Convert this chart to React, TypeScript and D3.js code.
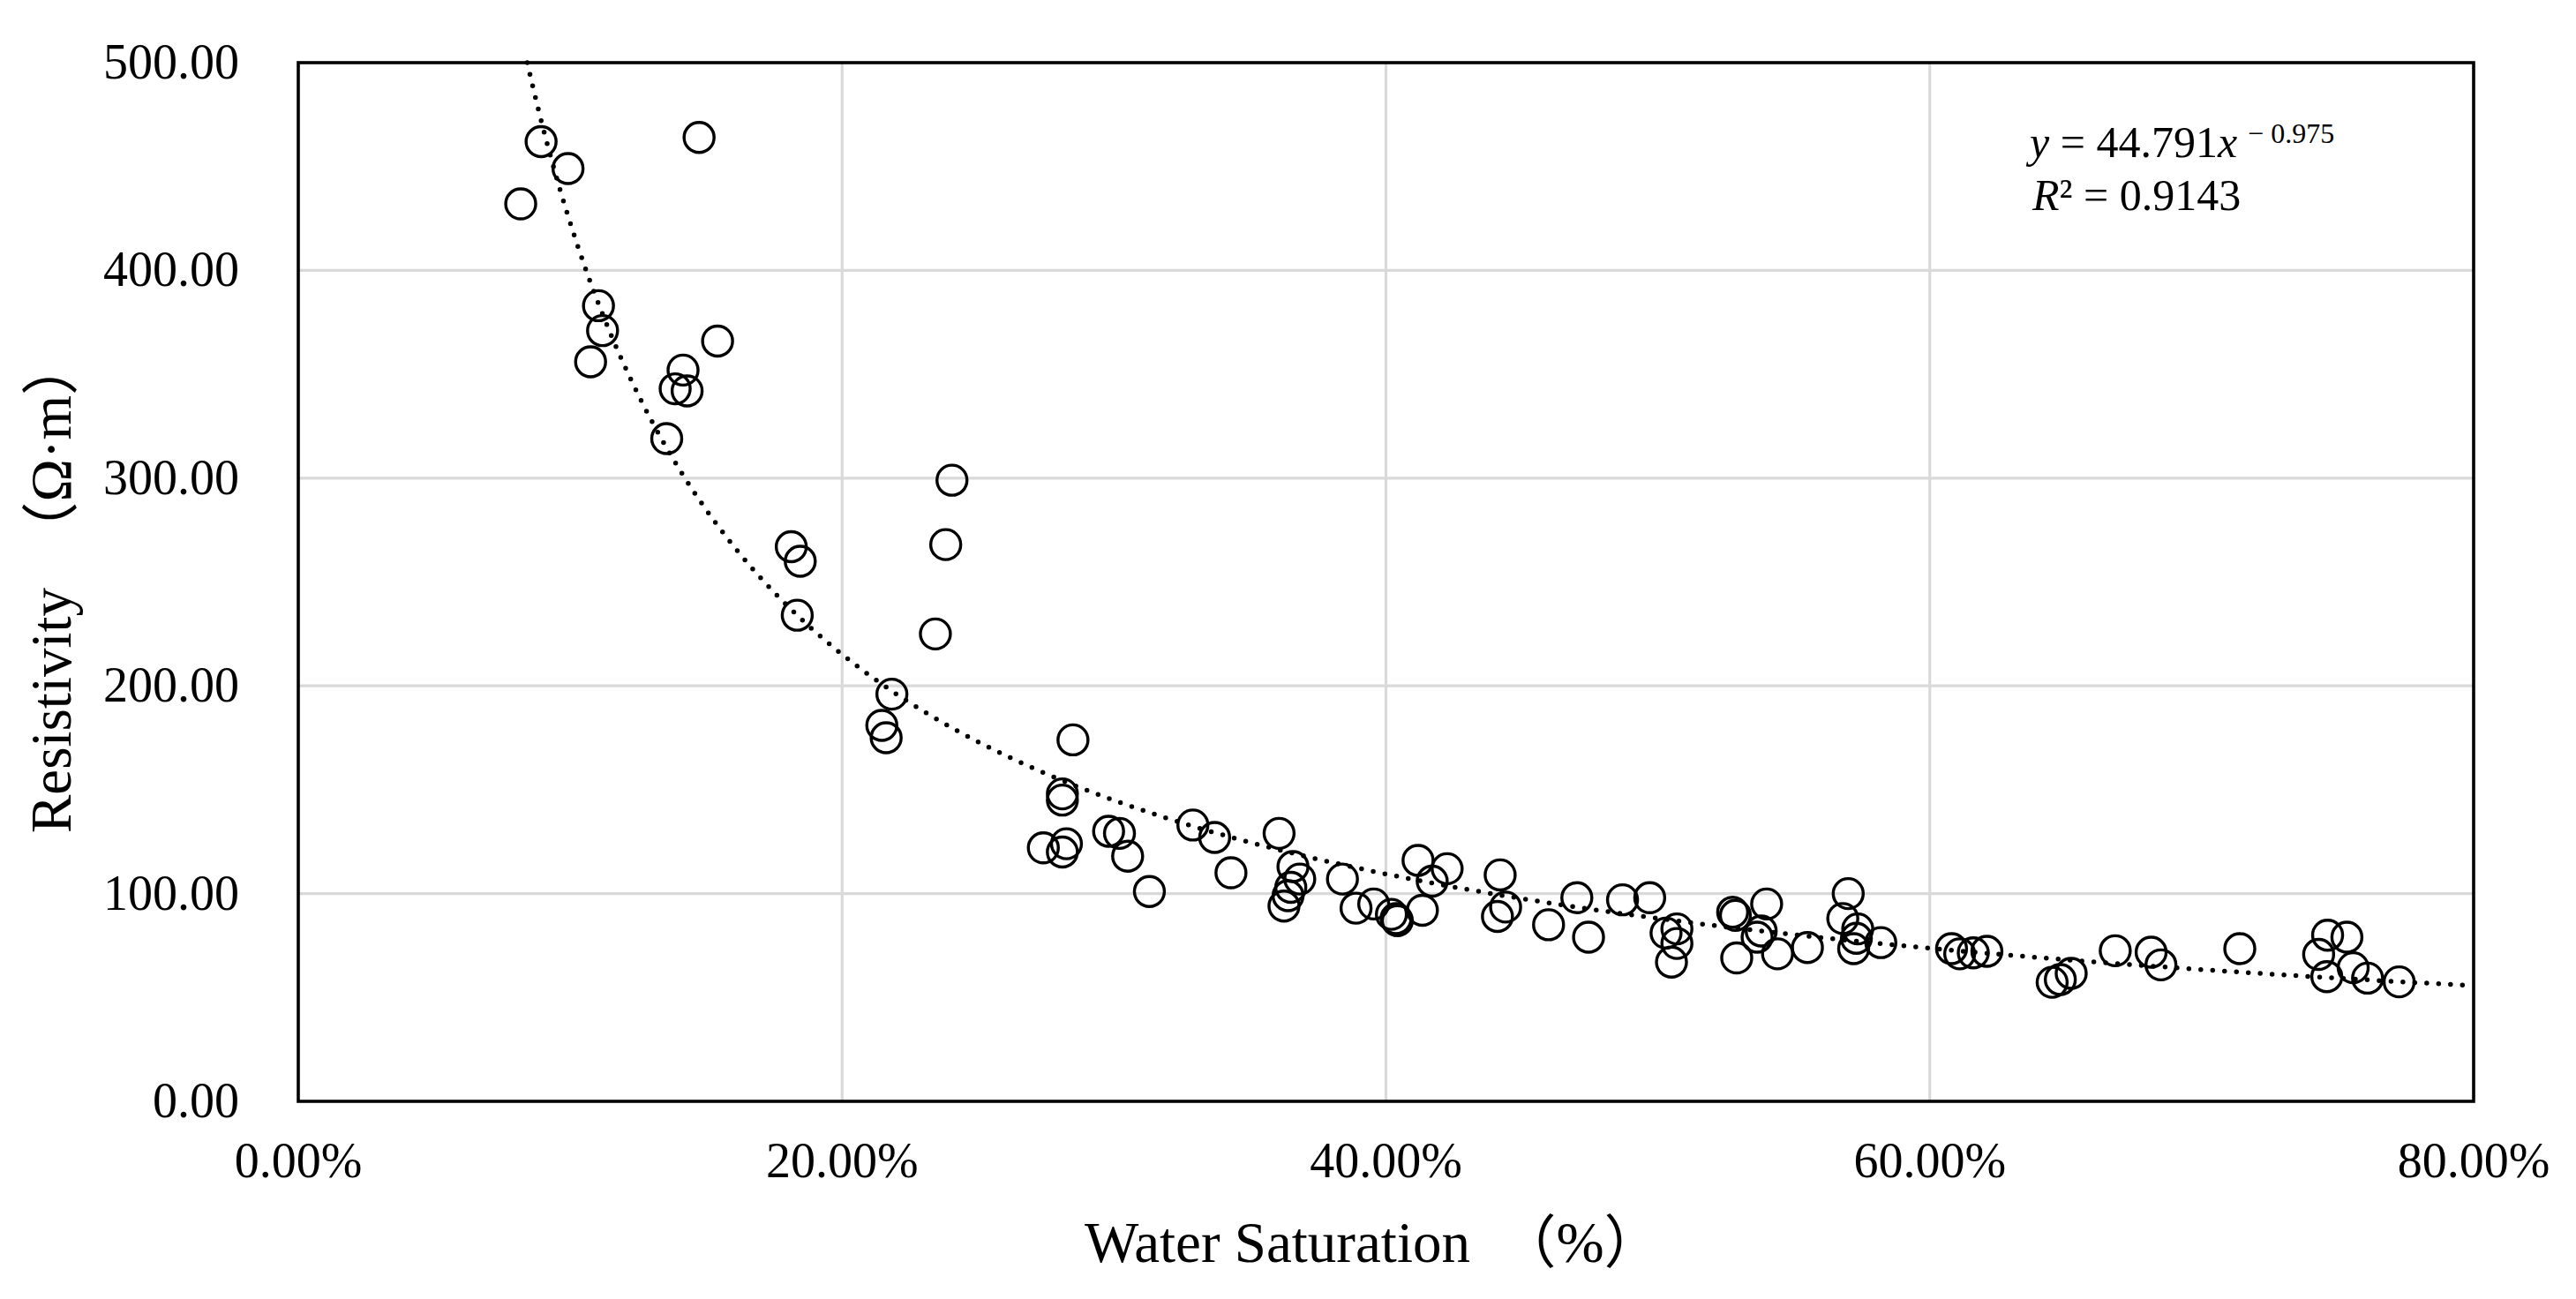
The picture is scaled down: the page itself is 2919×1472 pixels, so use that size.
import * as d3 from 'd3'

// water saturation (%) and resistivity (Ω·m)
const waterSat = [
  8.18, 8.93, 9.92, 14.74, 11.04, 11.19, 10.75, 15.42, 14.15, 13.86, 14.3, 13.55,
  18.13, 18.46, 18.35, 24.04, 23.81, 23.43, 21.83, 21.46, 21.62, 28.49, 28.1, 28.1,
  27.4, 28.1, 28.25, 29.8, 30.2, 30.5, 31.3, 32.9, 33.7, 34.3, 36.07, 36.58, 36.83,
  36.5, 36.4, 36.25, 38.4, 38.9, 39.55, 40.2, 40.37, 40.42, 41.34, 41.18, 41.7, 42.25,
  44.2, 44.1, 44.4, 45.98, 47.02, 47.45, 48.7, 49.7, 50.3, 50.7, 50.7, 50.5, 52.75,
  52.85, 52.9, 54.0, 53.8, 53.65, 54.4, 55.5, 57.0, 56.8, 57.35, 57.3, 57.2, 58.2,
  60.8, 61.1, 61.6, 62.1, 64.5, 64.8, 65.2, 66.82, 68.14, 68.5, 71.4, 74.63, 75.34,
  74.3, 74.6, 75.57, 76.1, 77.26,
]
const resistivity = [
  432, 462, 449, 464, 383, 371, 356, 366, 352, 343, 342, 319,
  267, 260, 234, 299, 268, 225, 196, 181, 175, 174, 148, 145,
  122, 120, 124, 130, 129, 118, 101, 133, 127, 110, 129, 113, 107,
  103, 99, 94, 107, 93, 95, 90, 88, 87, 92, 116, 106, 112,
  109, 89, 93.5, 85, 98, 79, 97, 98, 81, 83, 76, 67, 91,
  89.5, 69, 95, 82, 79, 71, 74, 100, 88, 83, 78.5, 73.5, 76.4,
  73.5, 71, 71.5, 72.2, 57.3, 58.6, 61.6, 72.5, 71.8, 65.7, 73.5, 80, 79,
  70.7, 60, 64.3, 59.3, 57.5,
]

const xTicks = [0, 20, 40, 60, 80]
const yTicks = [0, 100, 200, 300, 400, 500]

// power trendline shown on the chart: y = a * x^b (x as a fraction)
const trendA = 44.791
const trendB = -0.975
const trendR2 = 0.9143

const W = 2919
const H = 1472
const M = { left: 338, right: 2803, top: 71, bottom: 1248 }
const SERIF = '"Liberation Serif", "Times New Roman", "Noto Sans CJK SC", serif'

export default function App() {
  const x = d3.scaleLinear().domain([0, 80]).range([M.left, M.right])
  const y = d3.scaleLinear().domain([0, 500]).range([M.bottom, M.top])

  const trend = (p: number) => trendA * Math.pow(p / 100, trendB)
  const xStart = 100 * Math.pow(500 / trendA, 1 / trendB)
  const trendPts = d3.range(0, 401).map((i) => xStart + ((80 - xStart) * i) / 400)
  const line = d3
    .line<number>()
    .x((p) => x(p))
    .y((p) => y(trend(p)))

  const points = waterSat.map((s, i) => ({ s, r: resistivity[i] }))

  return (
    <svg
      width={W}
      height={H}
      viewBox={`0 0 ${W} ${H}`}
      style={{ position: 'absolute', left: 0, top: 0, background: '#fff' }}
      fontFamily={SERIF}
    >
      <rect width={W} height={H} fill="#fff" />

      {/* grid */}
      {xTicks.slice(1, -1).map((t) => (
        <line key={`gx${t}`} x1={x(t)} x2={x(t)} y1={M.top} y2={M.bottom} stroke="#d9d9d9" strokeWidth={3.2} />
      ))}
      {yTicks.slice(1, -1).map((t) => (
        <line key={`gy${t}`} x1={M.left} x2={M.right} y1={y(t)} y2={y(t)} stroke="#d9d9d9" strokeWidth={3.2} />
      ))}

      {/* trendline */}
      <path
        d={line(trendPts) ?? ''}
        fill="none"
        stroke="#000"
        strokeWidth={5.5}
        strokeLinecap="round"
        strokeDasharray="0 13.5"
      />

      {/* markers */}
      {points.map((p, i) => (
        <circle key={i} cx={x(p.s)} cy={y(p.r)} r={17} fill="none" stroke="#000" strokeWidth={3.4} />
      ))}

      {/* frame */}
      <rect
        x={M.left}
        y={M.top}
        width={M.right - M.left}
        height={M.bottom - M.top}
        fill="none"
        stroke="#000"
        strokeWidth={3.6}
      />

      {/* y tick labels */}
      {yTicks.map((t) => (
        <text key={`ly${t}`} x={271} y={y(t) + 18} textAnchor="end" fontSize={56} fill="#000">
          {t.toFixed(2)}
        </text>
      ))}

      {/* x tick labels */}
      {xTicks.map((t) => (
        <text key={`lx${t}`} x={x(t)} y={1334} textAnchor="middle" fontSize={56} fill="#000">
          {`${t.toFixed(2)}%`}
        </text>
      ))}

      {/* axis titles */}
      <text x={1229} y={1430} fontSize={65} fill="#000">
        Water Saturation　（%）
      </text>
      <text transform="translate(80,944) rotate(-90)" fontSize={65} fill="#000">
        Resistivity　（Ω·m）
      </text>

      {/* equation */}
      <text x={2300} y={178} fontSize={50} fill="#000">
        <tspan fontStyle="italic">y</tspan>
        <tspan> = {trendA}</tspan>
        <tspan fontStyle="italic">x</tspan>
        <tspan fontSize={32} dy={-16} dx={12}>
          − {Math.abs(trendB)}
        </tspan>
      </text>
      <text x={2303} y={238} fontSize={50} fill="#000">
        <tspan fontStyle="italic">R</tspan>
        <tspan>² = {trendR2}</tspan>
      </text>
    </svg>
  )
}
